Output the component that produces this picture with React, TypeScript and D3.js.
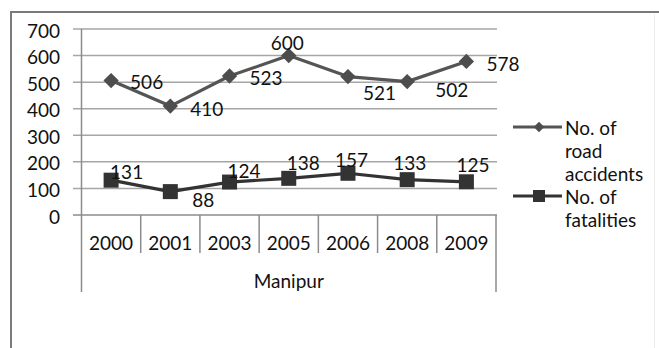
import React, { useEffect, useRef } from "react";
import * as d3 from "d3";

// Road safety figures for Manipur
const years = ["2000", "2001", "2003", "2005", "2006", "2008", "2009"];
const roadAccidents = [506, 410, 523, 600, 521, 502, 578];
const fatalities = [131, 88, 124, 138, 157, 133, 125];
const yTicks = [0, 100, 200, 300, 400, 500, 600, 700];
const groupLabel = "Manipur";
const seriesNames = [["No. of", "road", "accidents"], ["No. of", "fatalities"]];

// label offsets (dx from point to label start, dy to label centre)
const accidentLabelOffsets = [[19, 1], [20, 2], [20, 1], [-18, -13], [15, 16], [28, 8], [20, 2]];
const fatalityLabelOffsets = [[-1, -9], [22, 8], [-2, -12], [-2, -16], [-13, -14], [-14, -17], [-10, -17]];

const W = 659;
const H = 348;
const FONT = "Lato, 'Open Sans', sans-serif";
const FS = 19;
const INK = "#111";

export default function App() {
  const ref = useRef<SVGSVGElement | null>(null);

  useEffect(() => {
    const svg = d3.select(ref.current);
    svg.selectAll("*").remove();

    const x = d3.scaleBand<string>().domain(years).range([81.5, 496]).padding(0);
    const y = d3.scaleLinear().domain([0, 700]).range([215, 29]);
    const cx = (d: string) => (x(d) as number) + x.bandwidth() / 2;

    const text = (g: d3.Selection<any, unknown, null, undefined>, tx: number, ty: number, s: string, anchor = "start") =>
      g.append("text")
        .attr("x", tx).attr("y", ty)
        .attr("text-anchor", anchor).attr("dominant-baseline", "central")
        .attr("font-family", FONT).attr("font-size", FS).attr("fill", INK)
        .text(s);

    svg.append("rect").attr("x", 0).attr("y", 0).attr("width", W).attr("height", H).attr("fill", "#fff");

    // chart frame
    svg.append("rect")
      .attr("x", 11).attr("y", 12).attr("width", 800).attr("height", 500)
      .attr("fill", "none").attr("stroke", "#7a7a7a").attr("stroke-width", 2);
    svg.append("line")
      .attr("x1", 654.5).attr("x2", 654.5).attr("y1", 14).attr("y2", H)
      .attr("stroke", "#ececec").attr("stroke-width", 1);

    // gridlines + tick labels
    const grid = svg.append("g");
    yTicks.forEach((t) => {
      grid.append("line")
        .attr("x1", 73).attr("x2", 497)
        .attr("y1", y(t)).attr("y2", y(t))
        .attr("stroke", t === 0 ? "#8c8c8c" : "#a6a6a6").attr("stroke-width", 1.5);
      text(grid, 60, y(t) + 1, String(t), "end");
    });

    // value axis
    svg.append("line")
      .attr("x1", 81.5).attr("x2", 81.5).attr("y1", y(700)).attr("y2", 292)
      .attr("stroke", "#8c8c8c").attr("stroke-width", 1.5);

    // category dividers
    years.slice(1).forEach((d) => {
      const dx = x(d) as number;
      svg.append("line")
        .attr("x1", dx).attr("x2", dx).attr("y1", y(0)).attr("y2", 253)
        .attr("stroke", "#8c8c8c").attr("stroke-width", 1.5);
    });
    svg.append("line")
      .attr("x1", 496).attr("x2", 496).attr("y1", y(0)).attr("y2", 292)
      .attr("stroke", "#8c8c8c").attr("stroke-width", 1.5);

    // category labels
    years.forEach((d) => text(svg, cx(d), 242, d, "middle"));
    text(svg, (81.5 + 496) / 2, 280, groupLabel, "middle");

    const line = d3.line<number>()
      .x((_, i) => cx(years[i]))
      .y((v) => y(v));

    // road accidents series
    svg.append("path")
      .attr("d", line(roadAccidents))
      .attr("fill", "none").attr("stroke", "#555").attr("stroke-width", 3.2)
      .attr("stroke-linejoin", "round");
    const diamond = d3.symbol().type(d3.symbolDiamond2).size(150);
    roadAccidents.forEach((v, i) => {
      svg.append("path")
        .attr("d", diamond() as string)
        .attr("transform", `translate(${cx(years[i])},${y(v)})`)
        .attr("fill", "#4d4d4d");
    });

    // fatalities series
    svg.append("path")
      .attr("d", line(fatalities))
      .attr("fill", "none").attr("stroke", "#333").attr("stroke-width", 3.2)
      .attr("stroke-linejoin", "round");
    fatalities.forEach((v, i) => {
      svg.append("rect")
        .attr("x", cx(years[i]) - 7.5).attr("y", y(v) - 7.5)
        .attr("width", 15).attr("height", 15)
        .attr("fill", "#333");
    });

    // data labels
    const addLabels = (vals: number[], offs: number[][]) => {
      vals.forEach((v, i) => text(svg, cx(years[i]) + offs[i][0], y(v) + offs[i][1], String(v)));
    };
    addLabels(roadAccidents, accidentLabelOffsets);
    addLabels(fatalities, fatalityLabelOffsets);

    // legend
    const legendRows = [127, 196];
    legendRows.forEach((ly, k) => {
      svg.append("line")
        .attr("x1", 513).attr("x2", 562).attr("y1", ly).attr("y2", ly)
        .attr("stroke", k === 0 ? "#555" : "#333").attr("stroke-width", 3.2);
      if (k === 0) {
        svg.append("path")
          .attr("d", d3.symbol().type(d3.symbolDiamond2).size(70)() as string)
          .attr("transform", `translate(539,${ly})`)
          .attr("fill", "#4d4d4d");
      } else {
        svg.append("rect")
          .attr("x", 533).attr("y", ly - 6).attr("width", 12).attr("height", 12)
          .attr("fill", "#333");
      }
      seriesNames[k].forEach((s, j) => text(svg, 565, ly + j * 23, s));
    });
  }, []);

  return (
    <svg
      ref={ref}
      width={W}
      height={H}
      style={{ position: "absolute", left: 0, top: 0, display: "block" }}
    />
  );
}
